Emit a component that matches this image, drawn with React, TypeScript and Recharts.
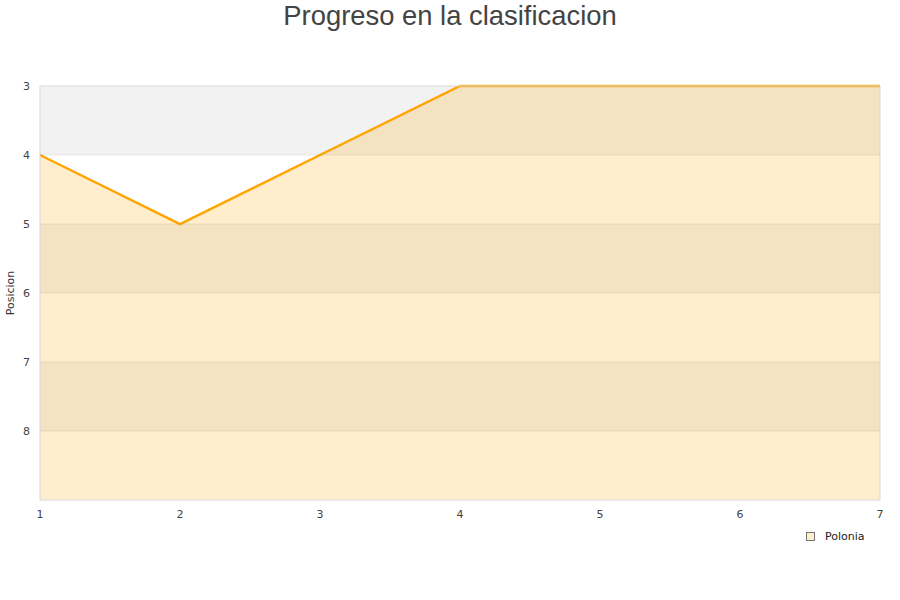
import React from 'react';
import {
  ComposedChart,
  Area,
  XAxis,
  YAxis,
  ReferenceArea,
  ReferenceLine,
} from 'recharts';

const jornadas = [1, 2, 3, 4, 5, 6, 7];
const posiciones = [4, 5, 4, 3, 3, 3, 3];
const yTicks = [3, 4, 5, 6, 7, 8, 9];
const lineasGuia = [4, 5, 6, 7, 8];
const bandasGrises: [number, number][] = [
  [3, 4],
  [5, 6],
  [7, 8],
];
const equipo = 'Polonia';

const data = jornadas.map((j, i) => ({ jornada: j, posicion: posiciones[i] }));

const FONT = '"DejaVu Sans", sans-serif';

const Leyenda = () => (
  <div
    style={{
      position: 'absolute',
      left: 806,
      top: 530,
      display: 'flex',
      alignItems: 'center',
      fontFamily: FONT,
      fontSize: 11,
      color: '#222',
    }}
  >
    <span
      style={{
        display: 'inline-block',
        width: 7,
        height: 7,
        background: '#ffedcc',
        border: '1px solid #777',
        marginRight: 10,
      }}
    />
    <span>{equipo}</span>
  </div>
);

export default function App() {
  return (
    <div
      style={{
        position: 'absolute',
        left: 0,
        top: 0,
        width: 900,
        height: 600,
        background: '#fff',
      }}
    >
      <div
        style={{
          position: 'absolute',
          left: 0,
          top: 0,
          width: 900,
          textAlign: 'center',
          fontFamily: '"Liberation Sans", Arial, sans-serif',
          fontSize: 27.4,
          color: '#444',
          lineHeight: '32px',
        }}
      >
        Progreso en la clasificacion
      </div>
      <ComposedChart
        width={900}
        height={600}
        data={data}
        margin={{ top: 86, right: 20, bottom: 70, left: 0 }}
      >
        {bandasGrises.map(([a, b]) => (
          <ReferenceArea
            key={a}
            y1={a}
            y2={b}
            fill="#f2f2f2"
            fillOpacity={1}
            stroke="none"
            ifOverflow="hidden"
          />
        ))}
        {lineasGuia.map((y) => (
          <ReferenceLine key={y} y={y} stroke="#000" strokeOpacity={0.07} />
        ))}
        <XAxis
          dataKey="jornada"
          type="number"
          domain={[1, 7]}
          ticks={jornadas}
          height={30}
          axisLine={false}
          tickLine={false}
          tickSize={0}
          tickMargin={10}
          tick={{ fill: '#444', fontSize: 11, fontFamily: FONT }}
        />
        <YAxis
          type="number"
          reversed
          domain={[3, 9]}
          ticks={yTicks}
          tickFormatter={(v: number) => (v === 9 ? '' : String(v))}
          width={40}
          axisLine={false}
          tickLine={false}
          tickSize={0}
          tickMargin={10}
          tick={{ fill: '#444', fontSize: 11, fontFamily: FONT }}
          label={{
            value: 'Posicion',
            angle: -90,
            position: 'insideLeft',
            offset: 10,
            style: { fill: '#333', fontSize: 11, fontFamily: FONT, textAnchor: 'middle' },
          }}
        />
        <Area
          type="linear"
          dataKey="posicion"
          name={equipo}
          baseValue={9}
          stroke="#ffa500"
          strokeWidth={2.5}
          fill="#ffa500"
          fillOpacity={0.2}
          dot={false}
          activeDot={false}
          isAnimationActive={false}
        />
        <ReferenceArea
          x1={1}
          x2={7}
          y1={3}
          y2={9}
          fill="none"
          stroke="#d8d8d8"
          strokeWidth={1}
        />
      </ComposedChart>
      <Leyenda />
    </div>
  );
}
